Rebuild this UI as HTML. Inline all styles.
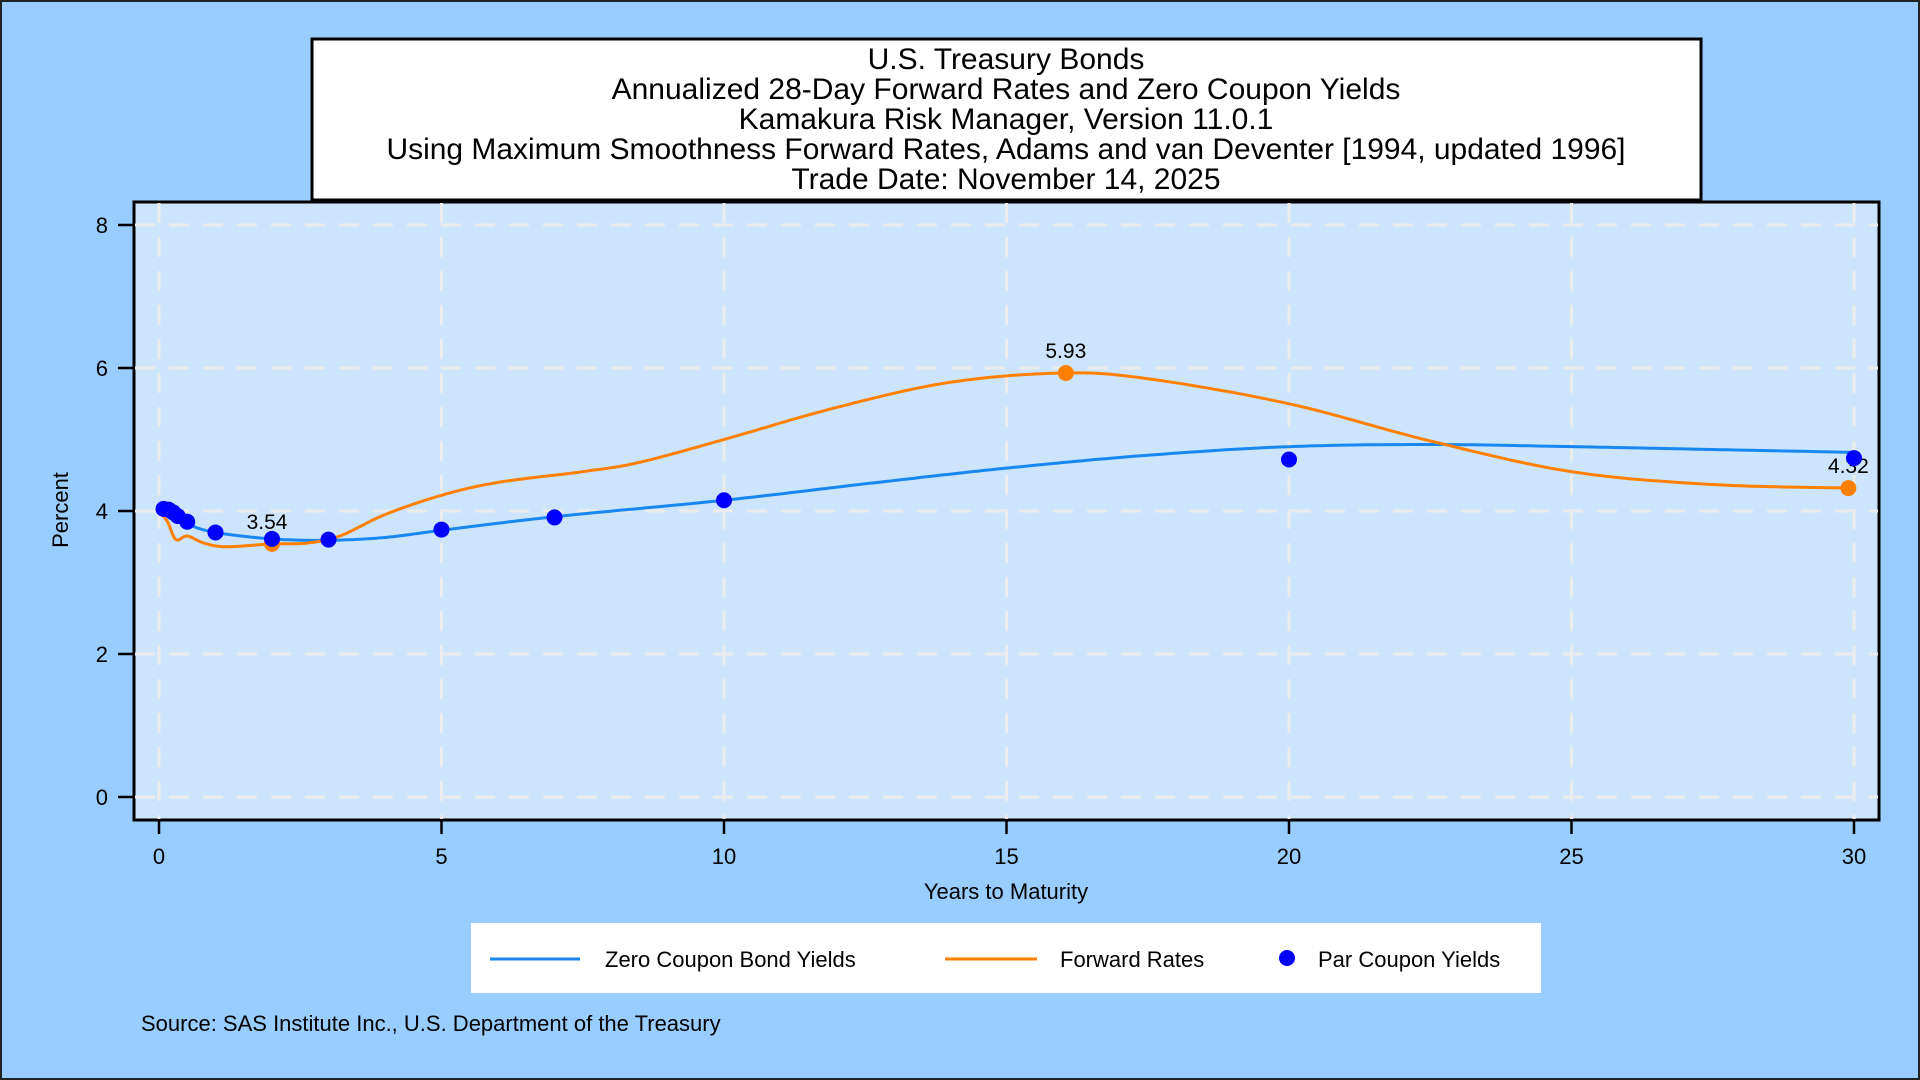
<!DOCTYPE html>
<html><head><meta charset="utf-8"><style>
html,body{margin:0;padding:0;width:1920px;height:1080px;overflow:hidden;background:#99ccff}
svg{display:block;font-family:"Liberation Sans",Arial,sans-serif}
</style></head><body>
<svg id="s" width="1920" height="1080" viewBox="0 0 1920 1080" xmlns="http://www.w3.org/2000/svg">
<rect x="1" y="1" width="1918" height="1078" fill="#99ccff" stroke="#222" stroke-width="2"/>
<rect x="134" y="202" width="1745" height="618" fill="#cce5fc" stroke="#000" stroke-width="3"/>
<g id="grid" stroke="#ebebeb" stroke-width="3" stroke-dasharray="20,14"></g>
<rect x="312" y="39" width="1389" height="161" fill="#fff" stroke="#000" stroke-width="3"/>
<g font-size="30" text-anchor="middle" fill="#000">
<text x="1006" y="69">U.S. Treasury Bonds</text>
<text x="1006" y="99">Annualized 28-Day Forward Rates and Zero Coupon Yields</text>
<text x="1006" y="129">Kamakura Risk Manager, Version 11.0.1</text>
<text x="1006" y="159" textLength="1239" lengthAdjust="spacingAndGlyphs">Using Maximum Smoothness Forward Rates, Adams and van Deventer [1994, updated 1996]</text>
<text x="1006" y="189">Trade Date: November 14, 2025</text>
</g>
<g id="ticks" stroke="#000" stroke-width="2.5"></g>
<g id="labels" font-size="22" fill="#000"></g>
<text x="1006" y="899" font-size="22" text-anchor="middle">Years to Maturity</text>
<text transform="translate(68,510) rotate(-90)" font-size="22" text-anchor="middle">Percent</text>
<g id="series"></g>
<rect x="471" y="923" width="1070" height="70" fill="#fff"/>
<line x1="490" y1="959" x2="580" y2="959" stroke="#1a86f0" stroke-width="3"/>
<text x="605" y="967" font-size="22">Zero Coupon Bond Yields</text>
<line x1="945" y1="959" x2="1037" y2="959" stroke="#ff8000" stroke-width="3"/>
<text x="1060" y="967" font-size="22">Forward Rates</text>
<circle cx="1287" cy="958" r="8" fill="#0000ff"/>
<text x="1318" y="967" font-size="22">Par Coupon Yields</text>
<text x="141" y="1031" font-size="22">Source: SAS Institute Inc., U.S. Department of the Treasury</text>
</svg>
<script>
var NS="http://www.w3.org/2000/svg";
function X(t){return 159+56.5*t}
function Y(v){return 797-71.5*v}
function el(p,tag,a,txt){var e=document.createElementNS(NS,tag);for(var k in a)e.setAttribute(k,a[k]);if(txt!==undefined)e.textContent=txt;document.getElementById(p).appendChild(e);return e}
for(var t=0;t<=30;t+=5){el("grid","line",{x1:X(t),y1:203,x2:X(t),y2:819});el("ticks","line",{x1:X(t),y1:821,x2:X(t),y2:834});el("labels","text",{x:X(t),y:864,"text-anchor":"middle"},t)}
for(var v=0;v<=8;v+=2){el("grid","line",{x1:135,y1:Y(v),x2:1878,y2:Y(v)});el("ticks","line",{x1:118,y1:Y(v),x2:133,y2:Y(v)});el("labels","text",{x:108,y:Y(v)+8,"text-anchor":"end"},v)}
function spline(p){var d="M"+X(p[0][0])+","+Y(p[0][1]);
for(var i=0;i<p.length-1;i++){var p0=p[Math.max(0,i-1)],p1=p[i],p2=p[i+1],p3=p[Math.min(p.length-1,i+2)];
for(var s=1;s<=20;s++){var u=s/20,u2=u*u,u3=u2*u;
function cr(a,b,c,d){return 0.5*((2*b)+(-a+c)*u+(2*a-5*b+4*c-d)*u2+(-a+3*b-3*c+d)*u3)}
var tx=cr(X(p0[0]),X(p1[0]),X(p2[0]),X(p3[0])),ty=cr(Y(p0[1]),Y(p1[1]),Y(p2[1]),Y(p3[1]));d+=" L"+tx.toFixed(1)+","+ty.toFixed(1)}}return d}
var zero=[[0,4.03],[0.5,3.82],[1,3.7],[2,3.61],[3,3.59],[4,3.63],[5,3.73],[7,3.92],[10,4.15],[12.5,4.38],[15,4.6],[17.5,4.78],[20,4.9],[22.5,4.93],[25,4.9],[27.5,4.86],[30,4.82]];
var fwd=[[0,4.0],[0.15,3.85],[0.3,3.6],[0.5,3.65],[0.8,3.55],[1.2,3.5],[2,3.54],[2.6,3.55],[3.2,3.65],[4,3.95],[5,4.22],[6,4.4],[7.5,4.55],[8.5,4.68],[10,5.0],[12,5.45],[14,5.8],[16,5.93],[17.5,5.85],[20,5.5],[22.5,4.98],[25,4.55],[27.5,4.37],[30,4.32]];
el("series","path",{d:spline(zero),fill:"none",stroke:"#1a86f0","stroke-width":3});
el("series","path",{d:spline(fwd),fill:"none",stroke:"#ff8000","stroke-width":3});
[[2,3.54],[16.05,5.93],[29.9,4.32]].forEach(function(p){el("series","circle",{cx:X(p[0]),cy:Y(p[1]),r:8,fill:"#ff8000"})});
el("series","text",{x:X(2)-5,y:Y(3.54)-15,"font-size":21,"text-anchor":"middle"},"3.54");
el("series","text",{x:X(16.05),y:Y(5.93)-15,"font-size":21,"text-anchor":"middle"},"5.93");
el("series","text",{x:X(29.9),y:Y(4.32)-15,"font-size":21,"text-anchor":"middle"},"4.32");
[[0.08,4.03],[0.17,4.02],[0.25,3.98],[0.33,3.93],[0.5,3.85],[1,3.7],[2,3.61],[3,3.6],[5,3.74],[7,3.91],[10,4.15],[20,4.72],[30,4.74]].forEach(function(p){el("series","circle",{cx:X(p[0]),cy:Y(p[1]),r:8,fill:"#0000ff"})});
</script>
</body></html>
